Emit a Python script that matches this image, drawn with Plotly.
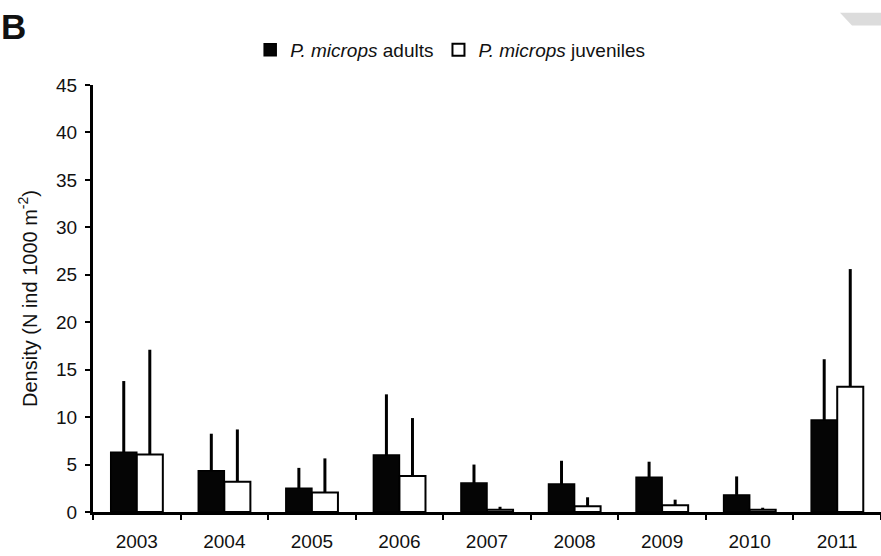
import plotly.graph_objects as go

# Annual densities of Pomatoschistus microps (mean + SD)
years = ["2003", "2004", "2005", "2006", "2007", "2008", "2009", "2010", "2011"]
adults = [6.3, 4.35, 2.5, 6.0, 3.05, 2.95, 3.65, 1.8, 9.7]
adults_sd = [7.5, 3.9, 2.15, 6.4, 1.95, 2.45, 1.65, 1.95, 6.4]
juveniles = [6.05, 3.2, 2.05, 3.8, 0.25, 0.6, 0.7, 0.25, 13.2]
juveniles_sd = [11.05, 5.5, 3.6, 6.1, 0.3, 0.95, 0.6, 0.2, 12.4]
y_ticks = [0, 5, 10, 15, 20, 25, 30, 35, 40, 45]

FONT = "Liberation Sans, Arial, sans-serif"
INK = "#111111"

W, H = 881, 556
L, R, T, B = 93, 0, 85, 44


def px_to_paper(px, py):
    pw = W - L - R
    ph = H - T - B
    return (px - L) / pw, (H - B - py) / ph


fig = go.Figure()

fig.add_trace(go.Bar(
    x=years, y=adults,
    name="<i>P. microps</i> adults",
    marker=dict(color="#050505", line=dict(color="#000000", width=1.5)),
    error_y=dict(type="data", symmetric=False, array=adults_sd,
                 arrayminus=[0] * len(adults_sd),
                 color="#000000", thickness=3, width=0),
))
fig.add_trace(go.Bar(
    x=years, y=juveniles,
    name="<i>P. microps</i> juveniles",
    marker=dict(color="#ffffff", line=dict(color="#000000", width=2)),
    error_y=dict(type="data", symmetric=False, array=juveniles_sd,
                 arrayminus=[0] * len(juveniles_sd),
                 color="#000000", thickness=3, width=0),
))

# panel letter
bx, by = px_to_paper(-1, 26)
fig.add_annotation(x=bx, y=by, xref="paper", yref="paper",
                   text="<b>B</b>", showarrow=False,
                   xanchor="left", yanchor="middle",
                   font=dict(family=FONT, size=35, color=INK))

# small grey mark in the top-right corner
pts = [(840, 12.7), (881, 12.7), (881, 25.5), (852, 25.5)]
path = "M " + " L ".join(f"{px_to_paper(a, b)[0]},{px_to_paper(a, b)[1]}" for a, b in pts) + " Z"
fig.add_shape(type="path", path=path, xref="paper", yref="paper",
              fillcolor="#dcdcdc", line=dict(width=0), layer="above")

fig.update_layout(
    width=W, height=H,
    margin=dict(l=L, r=R, t=T, b=B),
    paper_bgcolor="white", plot_bgcolor="white",
    barmode="group", bargap=0.405, bargroupgap=0,
    font=dict(family=FONT, size=19, color=INK),
    showlegend=True,
    legend=dict(orientation="h", xref="container", yref="container",
                x=0.511, y=1 - 50 / H, xanchor="center", yanchor="middle",
                font=dict(family=FONT, size=19, color=INK),
                itemwidth=30, tracegroupgap=0, bgcolor="rgba(0,0,0,0)"),
    xaxis=dict(type="category", showline=True, linecolor="#000000", linewidth=3,
               ticks="outside", tickson="boundaries", ticklen=5, tickwidth=2,
               tickcolor="#000000", showgrid=False, zeroline=False,
               ticklabelstandoff=10,
               tickfont=dict(family=FONT, size=19, color=INK)),
    yaxis=dict(range=[0, 45], tickvals=y_ticks, showline=True,
               linecolor="#000000", linewidth=3, ticks="outside", ticklen=5,
               tickwidth=2, tickcolor="#000000", showgrid=False, zeroline=False,
               ticklabelstandoff=4,
               tickfont=dict(family=FONT, size=19, color=INK),
               title=dict(text="Density (N ind 1000 m<sup>-2</sup>)",
                          font=dict(family=FONT, size=20, color=INK),
                          standoff=14)),
)

fig.write_html("out.html")
